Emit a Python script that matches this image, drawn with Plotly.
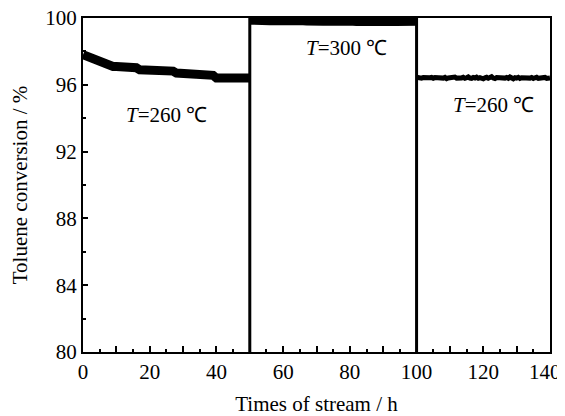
import plotly.graph_objects as go

# Segment 1: 260 C, 0-50 h
t1 = list(range(0, 51))
c1 = [97.80, 97.72, 97.62, 97.52, 97.42, 97.35, 97.28, 97.22, 97.15, 97.10,
      97.10, 97.10, 97.10, 97.02, 97.02, 97.02, 97.02, 96.90, 96.90, 96.90,
      96.90, 96.82, 96.82, 96.82, 96.82, 96.82, 96.82, 96.82, 96.70, 96.70,
      96.70, 96.70, 96.70, 96.70, 96.70, 96.57, 96.57, 96.57, 96.57, 96.57,
      96.40, 96.40, 96.40, 96.40, 96.40, 96.40, 96.40, 96.40, 96.40, 96.40,
      96.40]

# Segment 2: 300 C, 50-100 h
t2 = list(range(50, 101))
c2 = [99.84, 99.82, 99.83, 99.84, 99.82, 99.83, 99.81, 99.82, 99.83, 99.82,
      99.80, 99.82, 99.81, 99.80, 99.82, 99.81, 99.80, 99.79, 99.81, 99.80,
      99.79, 99.80, 99.78, 99.79, 99.80, 99.78, 99.79, 99.77, 99.78, 99.79,
      99.77, 99.78, 99.76, 99.77, 99.78, 99.76, 99.77, 99.72, 99.74, 99.76,
      99.77, 99.76, 99.78, 99.77, 99.76, 99.78, 99.77, 99.78, 99.79, 99.80,
      99.78]

# Segment 3: 260 C, 100-140 h
t3 = [100 + 0.5 * i for i in range(81)]
c3 = [96.45, 96.42, 96.44, 96.40, 96.43, 96.41, 96.45, 96.40, 96.42, 96.44,
      96.39, 96.43, 96.41, 96.46, 96.38, 96.42, 96.40, 96.44, 96.37, 96.41,
      96.43, 96.39, 96.42, 96.46, 96.40, 96.38, 96.43, 96.41, 96.45, 96.39,
      96.42, 96.47, 96.40, 96.38, 96.44, 96.41, 96.46, 96.39, 96.43, 96.40,
      96.36, 96.42, 96.45, 96.39, 96.41, 96.48, 96.40, 96.37, 96.43, 96.41,
      96.46, 96.38, 96.42, 96.40, 96.44, 96.39, 96.47, 96.41, 96.36, 96.43,
      96.40, 96.45, 96.38, 96.42, 96.41, 96.46, 96.39, 96.43, 96.40, 96.44,
      96.38, 96.42, 96.45, 96.39, 96.41, 96.43, 96.40, 96.44, 96.38, 96.42,
      96.41]

switch_times = [50, 100]
labels = ["<i>T</i>=260 ℃", "<i>T</i>=300 ℃", "<i>T</i>=260 ℃"]
label_x = [25, 79, 123]
label_y = [94.2, 98.2, 94.8]

x_tickvals = [0, 10, 20, 30, 40, 50, 60, 70, 80, 90, 100, 110, 120, 130, 140]
x_ticktext = ["0", "", "20", "", "40", "", "60", "", "80", "", "100", "", "120", "",
              "140<span style='color:white'>1</span>"]
y_tickvals = [80, 84, 88, 92, 96, 100]

FONT = "Liberation Serif"
TF = dict(family=FONT, size=21, color="black")

fig = go.Figure()
fig.add_trace(go.Scatter(x=t1, y=c1, mode="lines",
                         line=dict(color="black", width=9), showlegend=False))
fig.add_trace(go.Scatter(x=t2, y=c2, mode="lines",
                         line=dict(color="black", width=8), showlegend=False))
fig.add_trace(go.Scatter(x=t3, y=c3, mode="lines",
                         line=dict(color="black", width=5), showlegend=False))

for xs in switch_times:
    fig.add_shape(type="line", x0=xs, x1=xs, y0=80, y1=100, xref="x", yref="y",
                  line=dict(color="black", width=3))

for txt, xx, yy in zip(labels, label_x, label_y):
    fig.add_annotation(x=xx, y=yy, text=txt, showarrow=False,
                       font=dict(family=FONT, size=21, color="black"))

fig.update_layout(
    width=557, height=408,
    margin=dict(l=75, r=15, t=10, b=64),
    plot_bgcolor="white", paper_bgcolor="white",
    font=TF,
    xaxis=dict(range=[0, 140], tickmode="array",
               tickvals=x_tickvals, ticktext=x_ticktext,
               tickfont=TF, ticklabeloverflow="allow",
               ticks="inside", ticklen=6, tickwidth=2, tickcolor="black",
               minor=dict(dtick=5, ticks="inside", ticklen=3, tickwidth=2, tickcolor="black"),
               showline=True, linecolor="black", linewidth=2, mirror=True,
               showgrid=False, zeroline=False, automargin=False,
               title=dict(text="Times of stream / h", standoff=22, font=TF)),
    yaxis=dict(range=[80, 100], tickmode="array",
               tickvals=y_tickvals,
               tickfont=TF, ticklabeloverflow="allow",
               ticks="inside", ticklen=5, tickwidth=2, tickcolor="black",
               minor=dict(dtick=2, ticks="inside", ticklen=3, tickwidth=2, tickcolor="black"),
               showline=True, linecolor="black", linewidth=2, mirror=True,
               showgrid=False, zeroline=False, automargin=False,
               title=dict(text="Toluene conversion / %", standoff=20, font=TF)),
)

fig.write_html("out.html")
